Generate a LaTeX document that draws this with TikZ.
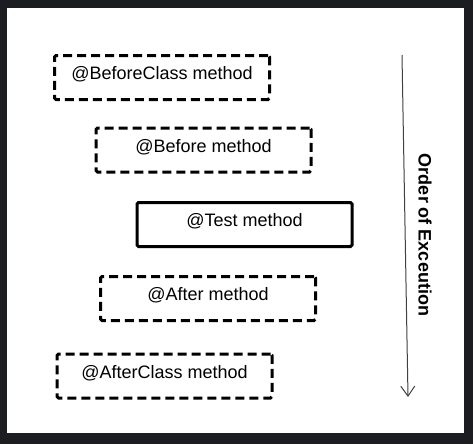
\documentclass[tikz,border=0pt]{standalone}
\usepackage{fontspec}
\setmainfont{Liberation Sans}
\usepackage{tikz}
\usetikzlibrary{arrows.meta}
\definecolor{frame}{HTML}{1B1D21}
\tikzset{methodbox/.style={draw=black, line width=3pt, rounded corners=1.5pt,
  minimum width=215pt, minimum height=44pt, inner sep=0pt,
  text height=13pt, text depth=9pt, font=\fontsize{18}{20}\selectfont}}
\tikzset{dashbox/.style={methodbox, dash pattern=on 9pt off 5pt}}

\begin{document}
\begin{tikzpicture}[x=1pt,y=-1pt]
\fill[frame] (0,0) rectangle (473,444);
\fill[white] (7,8) rectangle (464,433);

\node[dashbox] (beforeclass) at (162,77.5) {@BeforeClass method};
\node[dashbox] (before) at (203.5,150) {@Before method};
\node[methodbox] (test) at (244.5,224.5) {@Test method};
\node[dashbox] (after) at (208,298.5) {@After method};
\node[dashbox] (afterclass) at (164.5,376) {@AfterClass method};

\coordinate (first) at (402,55);
\coordinate (last) at (408,397);
\draw[line width=1pt, color=black!75, -{Straight Barb[length=10pt,width=14pt]}] (first) -- (last);
\node[rotate=-90, font=\bfseries\fontsize{18}{20}\selectfont] (order) at (425,235) {Order of Exceution};
\end{tikzpicture}
\end{document}
